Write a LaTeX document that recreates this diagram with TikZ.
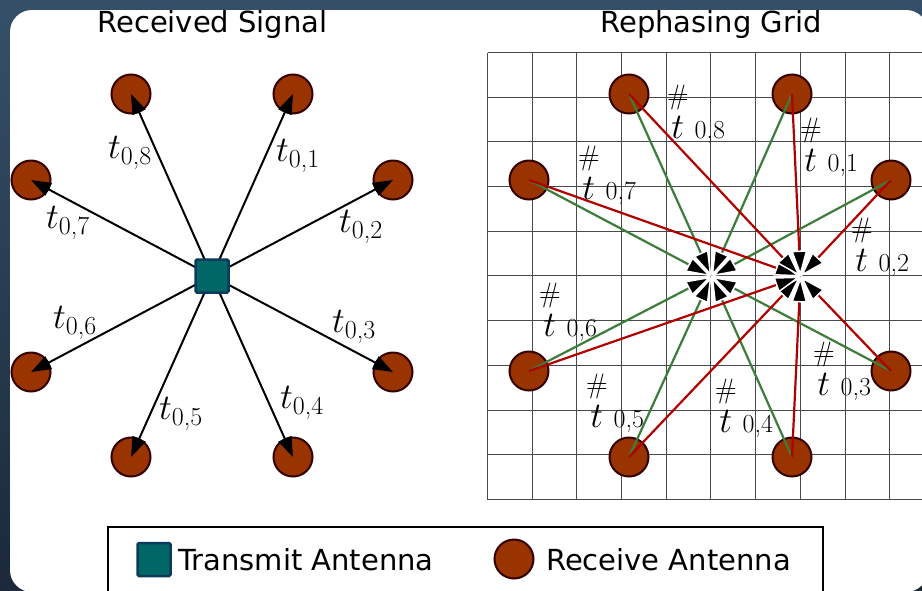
\RequirePackage{fix-cm}
\documentclass[tikz,border=0pt]{standalone}
\usepackage{amsmath}
\usepackage[no-math]{fontspec}
\newfontfamily\djv{DejaVu Sans}
\usetikzlibrary{arrows.meta}
\definecolor{bgtop}{HTML}{36506A}
\definecolor{bgbot}{HTML}{1B2939}
\definecolor{rxfill}{HTML}{993300}
\definecolor{rxedge}{HTML}{330000}
\definecolor{txfill}{HTML}{006666}
\definecolor{txedge}{HTML}{0B3A5C}
\definecolor{gridc}{HTML}{4A4A4A}
\definecolor{greenc}{HTML}{3C7D3C}
\definecolor{redc}{HTML}{B00000}
\newcommand\llab[1]{$t_{\hbox{\fontsize{26}{30}\selectfont #1}}$}
\newcommand\rlab[1]{$\overset{\raisebox{6pt}{\fontsize{28}{30}\selectfont\#}}{t}$\hspace{6pt}{\fontsize{26}{30}\selectfont #1}}
\begin{document}
\begin{tikzpicture}[x=1pt,y=-1pt,
  rx/.style={circle, fill=rxfill, draw=rxedge, line width=2pt, minimum size=39pt, inner sep=0pt},
  tx/.style={rectangle, fill=txfill, draw=txedge, line width=2.5pt, minimum size=33pt, inner sep=0pt, rounded corners=1.5pt},
  sig/.style={line width=2pt, -{Triangle[length=20pt,width=14pt]}},
  gpath/.style={greenc, line width=2.2pt, -{Triangle[length=26pt,width=16pt,color=white,fill=black,line width=1.5pt]}},
  rpath/.style={redc, line width=2.2pt, -{Triangle[length=26pt,width=16pt,color=white,fill=black,line width=1.5pt]}},
  gridline/.style={gridc, line width=1.5pt},
  lbl/.style={font=\fontsize{36}{40}\selectfont, inner sep=0pt},
  ttl/.style={font=\djv\fontsize{29}{34}\selectfont, inner sep=0pt}]
\useasboundingbox (0,0) rectangle (922,590);
% background
\shade[top color=bgtop, bottom color=bgbot] (0,0) rectangle (922,590);
\fill[white, rounded corners=22pt] (10,10) rectangle (928,592);
% titles
\node[ttl, anchor=base] (title1) at (212.5,32) {Received Signal};
\node[ttl, anchor=base] (title2) at (711,32) {Rephasing Grid};
% grid
\foreach \k in {0,...,10} {
  \draw[gridline] ({round(487+44.7*\k)+0.5},52.5) -- ({round(487+44.7*\k)+0.5},499.5);
  \draw[gridline] (487.5,{round(52+44.7*\k)+0.5}) -- (934,{round(52+44.7*\k)+0.5});
}
% left: received signal
\node[rx] (l1) at (293,94) {};
\node[rx] (l2) at (393,180) {};
\node[rx] (l3) at (393,372) {};
\node[rx] (l4) at (293,457) {};
\node[rx] (l5) at (131,457) {};
\node[rx] (l6) at (31,372) {};
\node[rx] (l7) at (31,180) {};
\node[rx] (l8) at (131,94) {};
\coordinate (txc) at (212,276);
\foreach \i in {1,...,8} {\draw[sig] (txc) -- (l\i.center);}
\node[tx] (tx) at (txc) {};
\node[lbl] (tl1) at (298,156) {\llab{0,1}};
\node[lbl] (tl2) at (361,227) {\llab{0,2}};
\node[lbl] (tl3) at (354,327) {\llab{0,3}};
\node[lbl] (tl4) at (302,403) {\llab{0,4}};
\node[lbl] (tl5) at (181,414) {\llab{0,5}};
\node[lbl] (tl6) at (75,323) {\llab{0,6}};
\node[lbl] (tl7) at (68,223) {\llab{0,7}};
\node[lbl] (tl8) at (130,153) {\llab{0,8}};
% right: rephasing grid
\node[rx] (r1) at (792,94) {};
\node[rx] (r2) at (891,180) {};
\node[rx] (r3) at (891,371) {};
\node[rx] (r4) at (792,457) {};
\node[rx] (r5) at (629,457) {};
\node[rx] (r6) at (529,371) {};
\node[rx] (r7) at (529,180) {};
\node[rx] (r8) at (629,94) {};
\coordinate (fg) at (711.5,276.5);
\coordinate (fr) at (800.5,276.5);
\foreach \i in {1,...,8} {\draw[gpath] (r\i.center) -- (fg);}
\foreach \i in {1,...,8} {\draw[rpath] (r\i.center) -- (fr);}
\node[lbl] (tr1) at (829,146) {\rlab{0,1}};
\node[lbl] (tr2) at (880,246) {\rlab{0,2}};
\node[lbl] (tr3) at (842,370) {\rlab{0,3}};
\node[lbl] (tr4) at (744,407) {\rlab{0,4}};
\node[lbl] (tr5) at (615,402) {\rlab{0,5}};
\node[lbl] (tr6) at (568,311) {\rlab{0,6}};
\node[lbl] (tr7) at (607,174) {\rlab{0,7}};
\node[lbl] (tr8) at (696,113) {\rlab{0,8}};
% legend
\draw[line width=1.5pt] (108,527) rectangle (823,600);
\node[tx] (legtx) at (154,559.5) {};
\node[ttl, anchor=base west] (legtxt1) at (178,570) {Transmit Antenna};
\node[rx] (legrx) at (514,559) {};
\node[ttl, anchor=base west] (legtxt2) at (546,570) {Receive Antenna};
\end{tikzpicture}
\end{document}
